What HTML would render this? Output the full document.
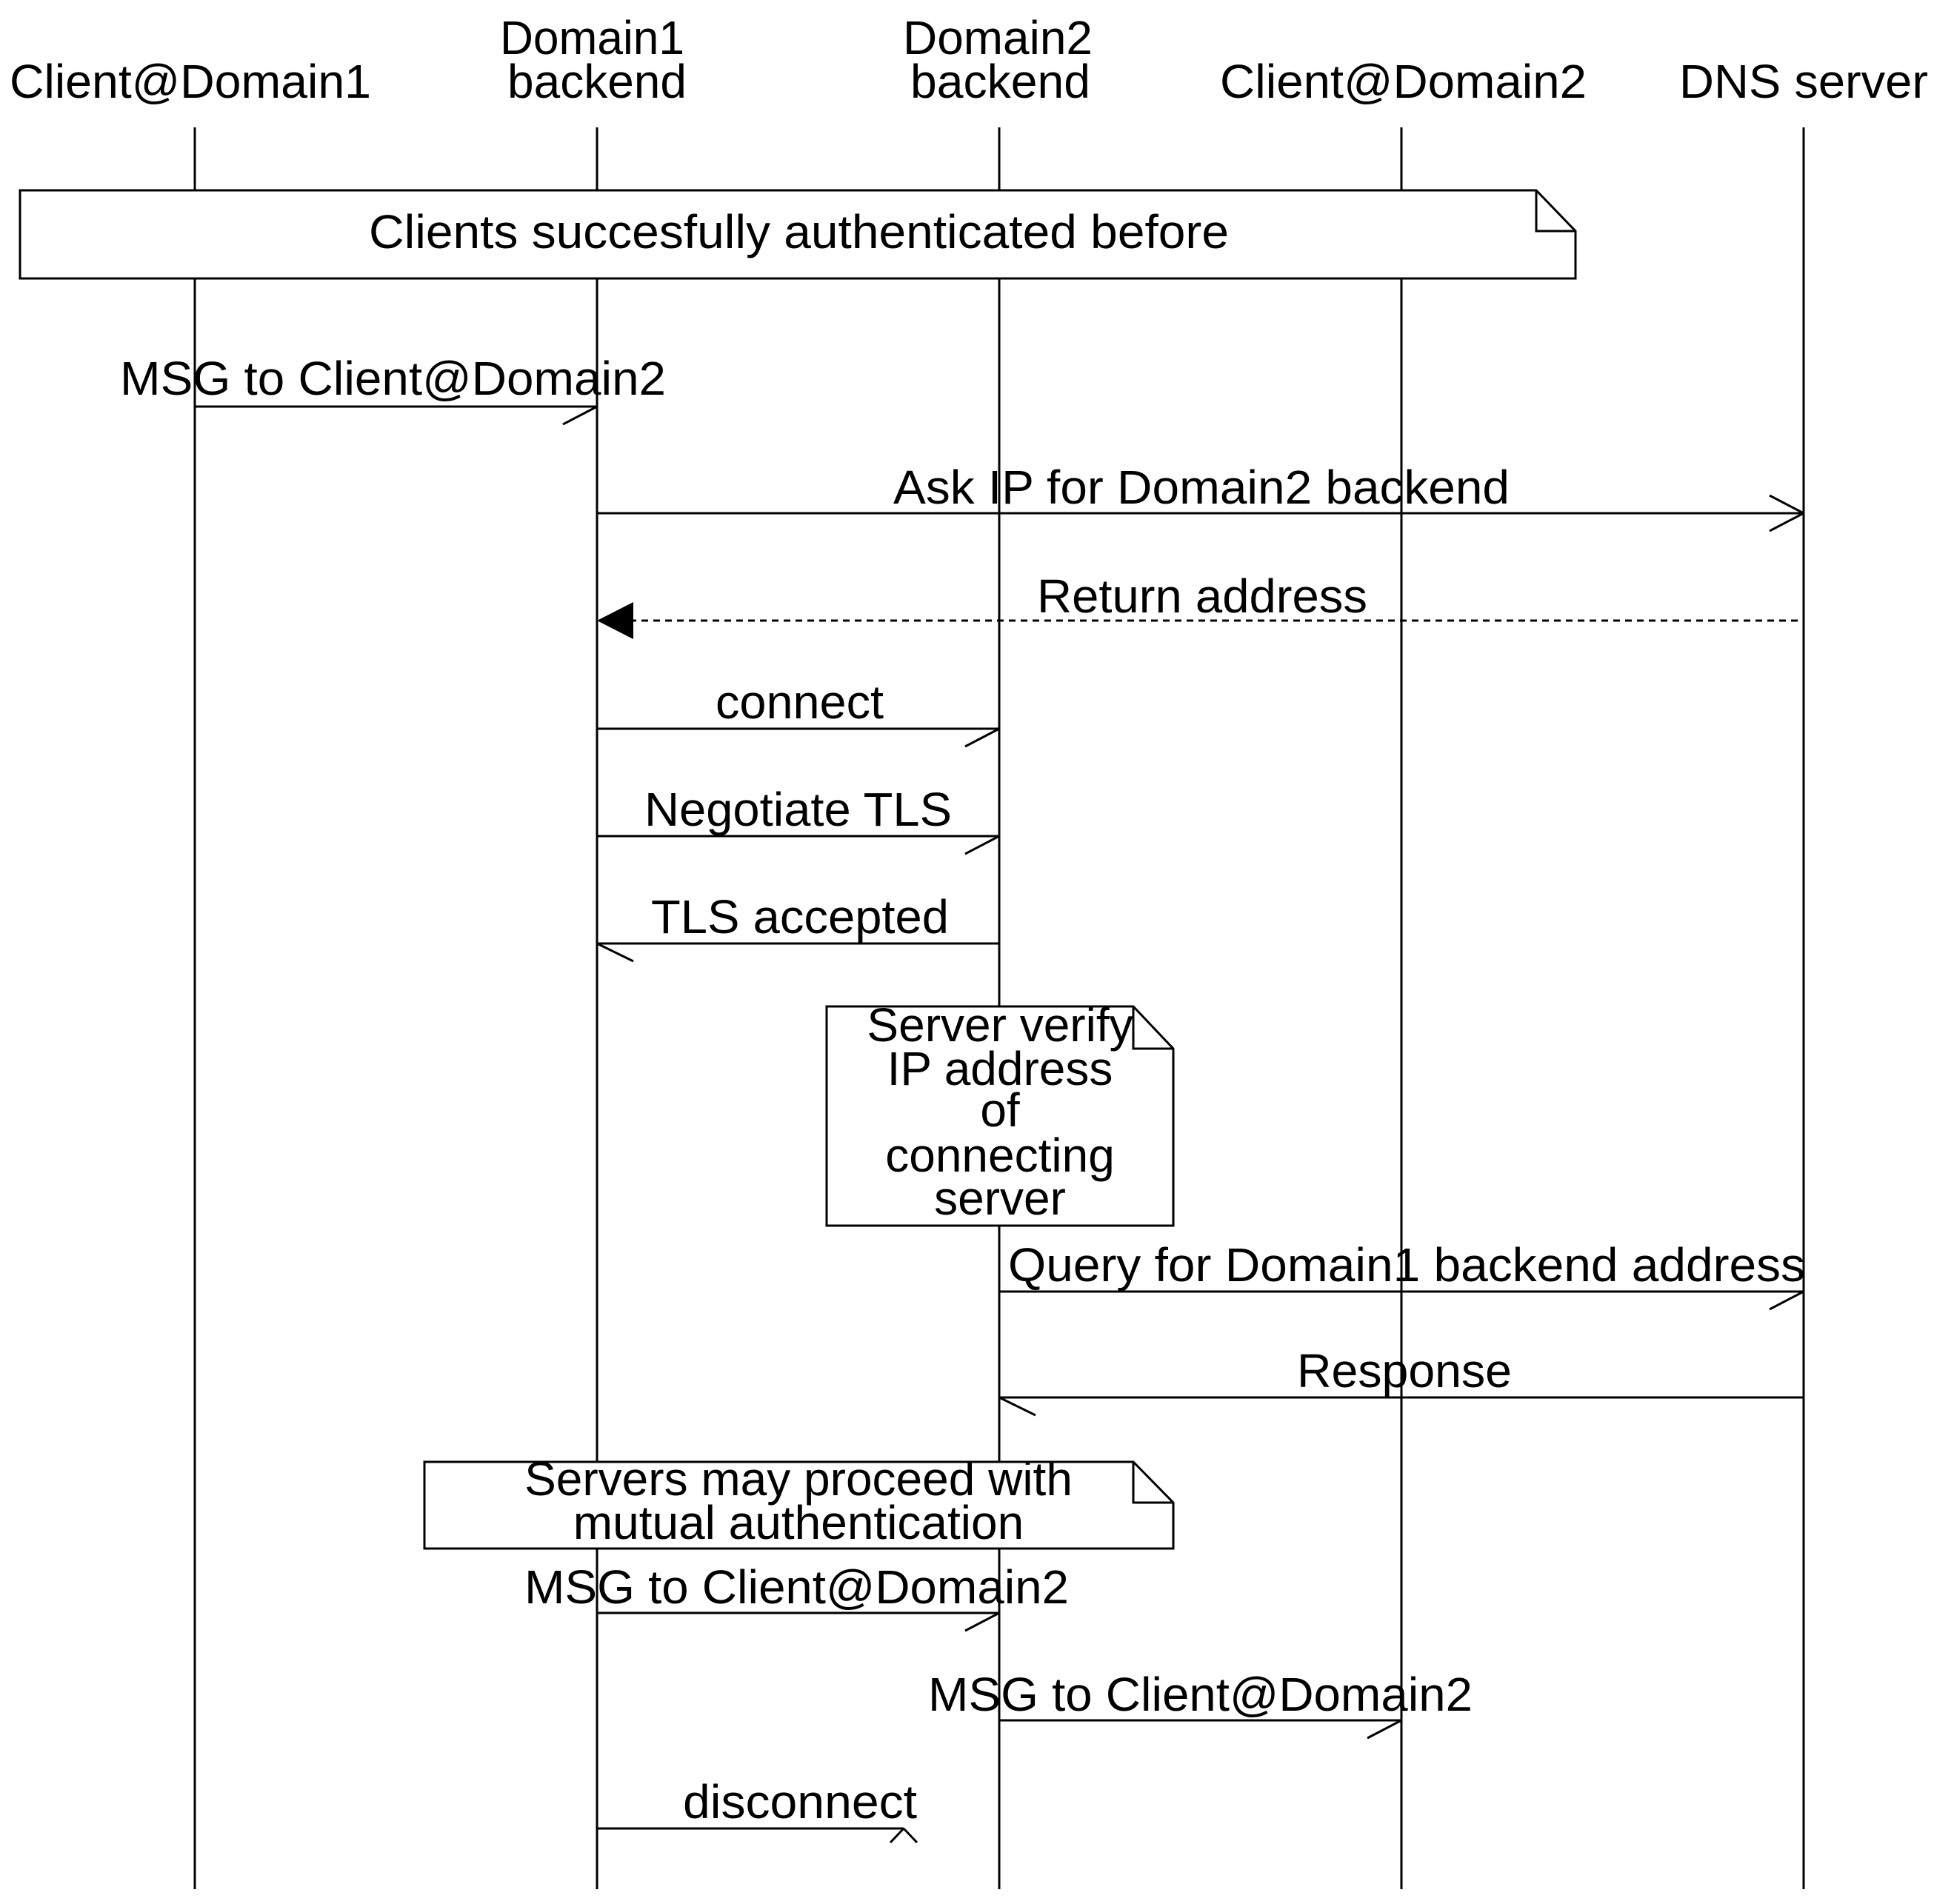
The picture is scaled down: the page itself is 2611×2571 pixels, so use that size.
<!DOCTYPE html>
<html><head><meta charset="utf-8"><style>html,body{margin:0;padding:0;background:#fff}svg{display:block}</style></head><body>
<svg width="2611" height="2571" viewBox="0 0 2611 2571" xmlns="http://www.w3.org/2000/svg" font-family="Liberation Sans, sans-serif" font-size="64" fill="#000">
<rect width="2611" height="2571" fill="#fff"/>
<g transform="translate(0,-2)">
<g stroke="#000" stroke-width="3" fill="none">
<line x1="263" y1="174" x2="263" y2="2553"/>
<line x1="806" y1="174" x2="806" y2="2553"/>
<line x1="1349" y1="174" x2="1349" y2="2553"/>
<line x1="1892" y1="174" x2="1892" y2="2553"/>
<line x1="2435" y1="174" x2="2435" y2="2553"/>
</g>
<g stroke="#000" stroke-width="3" fill="#fff">
<path d="M27 259 H2074 L2127 314 V378 H27 Z"/>
<path d="M2074 259 V314 H2127" fill="none"/>
<path d="M1116 1361 H1530 L1584 1418 V1657 H1116 Z"/>
<path d="M1530 1361 V1418 H1584" fill="none"/>
<path d="M573 1976 H1530 L1584 2031 V2093 H573 Z"/>
<path d="M1530 1976 V2031 H1584" fill="none"/>
</g>
<g stroke="#000" stroke-width="3" fill="none">
<line x1="263" y1="551" x2="806" y2="551"/><line x1="806" y1="551" x2="760" y2="575"/>
<line x1="806" y1="695" x2="2435" y2="695"/><line x1="2435" y1="695" x2="2389" y2="671"/><line x1="2435" y1="695" x2="2389" y2="719"/>
<line x1="850" y1="840" x2="2435" y2="840" stroke-dasharray="9,7"/>
<line x1="806" y1="986" x2="1349" y2="986"/><line x1="1349" y1="986" x2="1303" y2="1010"/>
<line x1="806" y1="1131" x2="1349" y2="1131"/><line x1="1349" y1="1131" x2="1303" y2="1155"/>
<line x1="806" y1="1276" x2="1349" y2="1276"/><line x1="806" y1="1276" x2="855" y2="1300"/>
<line x1="1349" y1="1746" x2="2435" y2="1746"/><line x1="2435" y1="1746" x2="2389" y2="1770"/>
<line x1="1349" y1="1889" x2="2435" y2="1889"/><line x1="1349" y1="1889" x2="1398" y2="1913"/>
<line x1="806" y1="2180" x2="1349" y2="2180"/><line x1="1349" y1="2180" x2="1303" y2="2204"/>
<line x1="1349" y1="2325" x2="1892" y2="2325"/><line x1="1892" y1="2325" x2="1846" y2="2349"/>
<line x1="806" y1="2471" x2="1220" y2="2471"/><line x1="1220" y1="2471" x2="1202" y2="2490"/><line x1="1220" y1="2471" x2="1238" y2="2490"/>
</g>
<path d="M806 840 L855 815 L855 865 Z" fill="#000"/>
<g>
<text x="13" y="134" textLength="488" lengthAdjust="spacingAndGlyphs">Client@Domain1</text>
<text x="675" y="75" textLength="249" lengthAdjust="spacingAndGlyphs">Domain1</text>
<text x="685" y="134" textLength="242" lengthAdjust="spacingAndGlyphs">backend</text>
<text x="1219" y="75" textLength="256" lengthAdjust="spacingAndGlyphs">Domain2</text>
<text x="1229" y="134" textLength="243" lengthAdjust="spacingAndGlyphs">backend</text>
<text x="1647" y="134" textLength="495" lengthAdjust="spacingAndGlyphs">Client@Domain2</text>
<text x="2267" y="134" textLength="336" lengthAdjust="spacingAndGlyphs">DNS server</text>
<text x="498" y="337" textLength="1161" lengthAdjust="spacingAndGlyphs">Clients succesfully authenticated before</text>
<text x="162" y="535" textLength="737" lengthAdjust="spacingAndGlyphs">MSG to Client@Domain2</text>
<text x="1206" y="682" textLength="832" lengthAdjust="spacingAndGlyphs">Ask IP for Domain2 backend</text>
<text x="1400" y="829" textLength="446" lengthAdjust="spacingAndGlyphs">Return address</text>
<text x="966" y="972" textLength="227" lengthAdjust="spacingAndGlyphs">connect</text>
<text x="870" y="1117" textLength="415" lengthAdjust="spacingAndGlyphs">Negotiate TLS</text>
<text x="879" y="1262" textLength="402" lengthAdjust="spacingAndGlyphs">TLS accepted</text>
<text x="1350" y="1408" text-anchor="middle">Server verify</text>
<text x="1350" y="1467" text-anchor="middle">IP address</text>
<text x="1350" y="1523" text-anchor="middle">of</text>
<text x="1350" y="1584" text-anchor="middle">connecting</text>
<text x="1350" y="1642" text-anchor="middle">server</text>
<text x="1361" y="1732" textLength="1076" lengthAdjust="spacingAndGlyphs">Query for Domain1 backend address</text>
<text x="1751" y="1875" textLength="290" lengthAdjust="spacingAndGlyphs">Response</text>
<text x="1078" y="2021" text-anchor="middle">Servers may proceed with</text>
<text x="1078" y="2080" text-anchor="middle">mutual authentication</text>
<text x="708" y="2167" textLength="735" lengthAdjust="spacingAndGlyphs">MSG to Client@Domain2</text>
<text x="1253" y="2312" textLength="735" lengthAdjust="spacingAndGlyphs">MSG to Client@Domain2</text>
<text x="922" y="2457" textLength="316" lengthAdjust="spacingAndGlyphs">disconnect</text>
</g>
</g>
</svg>
</body></html>
